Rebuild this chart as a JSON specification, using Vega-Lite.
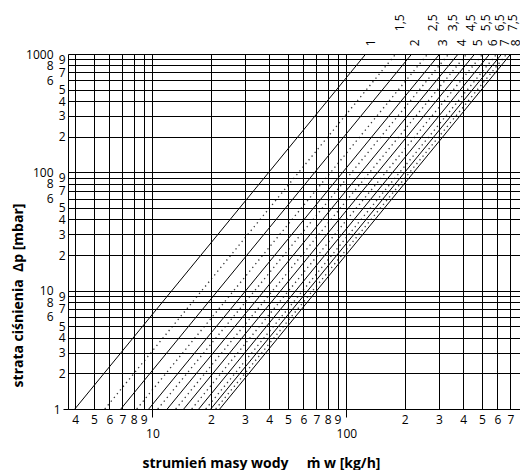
{
  "$schema": "https://vega.github.io/schema/vega-lite/v6.json",
  "width": 452,
  "height": 355,
  "autosize": "none",
  "padding": {"left": 68, "top": 54, "right": 0, "bottom": 61},
  "background": "white",
  "config": {"view": {"stroke": null}, "font": "Open Sans"},
  "datasets": {
    "lines": [
      {"s": "1", "kind": "int", "m": 3.98, "dp": 1}, {"s": "1", "kind": "int", "m": 125.8, "dp": 1000},
      {"s": "1,5", "kind": "half", "m": 5.68, "dp": 1}, {"s": "1,5", "kind": "half", "m": 179.5, "dp": 1000},
      {"s": "2", "kind": "int", "m": 6.87, "dp": 1}, {"s": "2", "kind": "int", "m": 217.1, "dp": 1000},
      {"s": "2,5", "kind": "half", "m": 8.30, "dp": 1}, {"s": "2,5", "kind": "half", "m": 262.4, "dp": 1000},
      {"s": "3", "kind": "int", "m": 9.57, "dp": 1}, {"s": "3", "kind": "int", "m": 302.6, "dp": 1000},
      {"s": "3,5", "kind": "half", "m": 10.65, "dp": 1}, {"s": "3,5", "kind": "half", "m": 336.7, "dp": 1000},
      {"s": "4", "kind": "int", "m": 11.92, "dp": 1}, {"s": "4", "kind": "int", "m": 376.8, "dp": 1000},
      {"s": "4,5", "kind": "half", "m": 13.18, "dp": 1}, {"s": "4,5", "kind": "half", "m": 416.9, "dp": 1000},
      {"s": "5", "kind": "int", "m": 14.50, "dp": 1}, {"s": "5", "kind": "int", "m": 458.4, "dp": 1000},
      {"s": "5,5", "kind": "half", "m": 15.94, "dp": 1}, {"s": "5,5", "kind": "half", "m": 504.2, "dp": 1000},
      {"s": "6", "kind": "int", "m": 17.33, "dp": 1}, {"s": "6", "kind": "int", "m": 547.9, "dp": 1000},
      {"s": "6,5", "kind": "half", "m": 18.83, "dp": 1}, {"s": "6,5", "kind": "half", "m": 595.3, "dp": 1000},
      {"s": "7", "kind": "int", "m": 19.98, "dp": 1}, {"s": "7", "kind": "int", "m": 631.8, "dp": 1000},
      {"s": "7,5", "kind": "half", "m": 21.19, "dp": 1}, {"s": "7,5", "kind": "half", "m": 670, "dp": 1000},
      {"s": "8", "kind": "int", "m": 22.23, "dp": 1}, {"s": "8", "kind": "int", "m": 703, "dp": 1000}
    ],
    "labs": [
      {"lab": "1", "m": 133.5, "dp": 1165},
      {"lab": "2", "m": 224.9, "dp": 1165},
      {"lab": "3", "m": 314.9, "dp": 1165},
      {"lab": "4", "m": 396.3, "dp": 1165},
      {"lab": "5", "m": 476.9, "dp": 1165},
      {"lab": "6", "m": 569.8, "dp": 1165},
      {"lab": "7", "m": 654.6, "dp": 1165},
      {"lab": "8", "m": 746, "dp": 1165},
      {"lab": "1,5", "m": 189.8, "dp": 1560},
      {"lab": "2,5", "m": 279.5, "dp": 1560},
      {"lab": "3,5", "m": 354.4, "dp": 1560},
      {"lab": "4,5", "m": 440.6, "dp": 1560},
      {"lab": "5,5", "m": 526.8, "dp": 1560},
      {"lab": "6,5", "m": 622.3, "dp": 1560},
      {"lab": "7,5", "m": 722.5, "dp": 1560}
    ]
  },
  "encoding": {
    "x": {
      "field": "m", "type": "quantitative",
      "scale": {"type": "log", "domain": [3.67, 785], "nice": false, "zero": false},
      "axis": {
        "values": [4,5,6,7,8,9,10,20,30,40,50,60,70,80,90,100,200,300,400,500,600,700],
        "labelExpr": "indexof([10,100], datum.value) >= 0 ? toString(datum.value) : substring(toString(datum.value), 0, 1)",
        "grid": true, "gridColor": "#000", "gridWidth": 1, "gridOpacity": 1,
        "domain": true, "domainColor": "#000", "domainWidth": 1,
        "ticks": true, "tickColor": "#000",
        "tickSize": {"condition": {"test": "datum.value == 10 || datum.value == 100", "value": 8}, "value": 0},
        "labelPadding": {"condition": {"test": "datum.value == 10 || datum.value == 100", "value": 11}, "value": 5},
        "labelFont": "Open Sans", "labelFontSize": 12, "labelColor": "#000",
        "labelFlush": false, "labelOverlap": false, "labelBound": false,
        "title": "strumień masy wody\u00a0\u00a0\u00a0\u00a0\u00a0ṁ w [kg/h]",
        "titleFont": "Open Sans", "titleFontSize": 14, "titleFontWeight": "bold", "titleColor": "#000",
        "titleX": 193, "titleY": 58, "titleAlign": "center", "titleBaseline": "alphabetic"
      }
    },
    "y": {
      "field": "dp", "type": "quantitative",
      "scale": {"type": "log", "domain": [1, 1000], "nice": false, "zero": false},
      "axis": {
        "values": [1,2,3,4,5,6,7,8,9,10,20,30,40,50,60,70,80,90,100,200,300,400,500,600,700,800,900,1000],
        "labelExpr": "indexof([10,100,1000], datum.value) >= 0 ? toString(datum.value) : substring(toString(datum.value), 0, 1)",
        "grid": true, "gridColor": "#000", "gridWidth": 1, "gridOpacity": 1,
        "domain": true, "domainColor": "#000", "domainWidth": 1,
        "ticks": true, "tickColor": "#000",
        "tickSize": {"condition": {"test": "datum.value == 1", "value": 5}, "value": 0},
        "labelPadding": {"condition": {"test": "indexof([6,8,10,60,80,100,600,800,1000], datum.value) >= 0", "value": 15}, "value": 3},
        "labelFont": "Open Sans", "labelFontSize": 12, "labelColor": "#000", "labelBaseline": "middle",
        "labelFlush": false, "labelOverlap": false, "labelBound": false,
        "title": "strata ciśnienia\u00a0\u00a0Δp [mbar]",
        "titleFont": "Open Sans", "titleFontSize": 14, "titleFontWeight": "bold", "titleColor": "#000",
        "titleX": -50, "titleY": 241, "titleAngle": -90, "titleAlign": "center", "titleBaseline": "middle"
      }
    }
  },
  "layer": [
    {
      "data": {"name": "lines"},
      "transform": [{"filter": "datum.kind == 'half'"}],
      "mark": {"type": "line", "color": "#000", "strokeWidth": 1.3, "strokeDash": [1.3, 3.5], "opacity": 0.8, "clip": true},
      "encoding": {"detail": {"field": "s"}}
    },
    {
      "data": {"name": "lines"},
      "transform": [{"filter": "datum.kind == 'int'"}],
      "mark": {"type": "line", "color": "#000", "strokeWidth": 1, "clip": true},
      "encoding": {"detail": {"field": "s"}}
    },
    {
      "data": {"name": "labs"},
      "mark": {"type": "text", "angle": 270, "align": "left", "baseline": "middle", "font": "Open Sans", "fontSize": 12, "color": "#000"},
      "encoding": {"text": {"field": "lab"}}
    }
  ]
}
